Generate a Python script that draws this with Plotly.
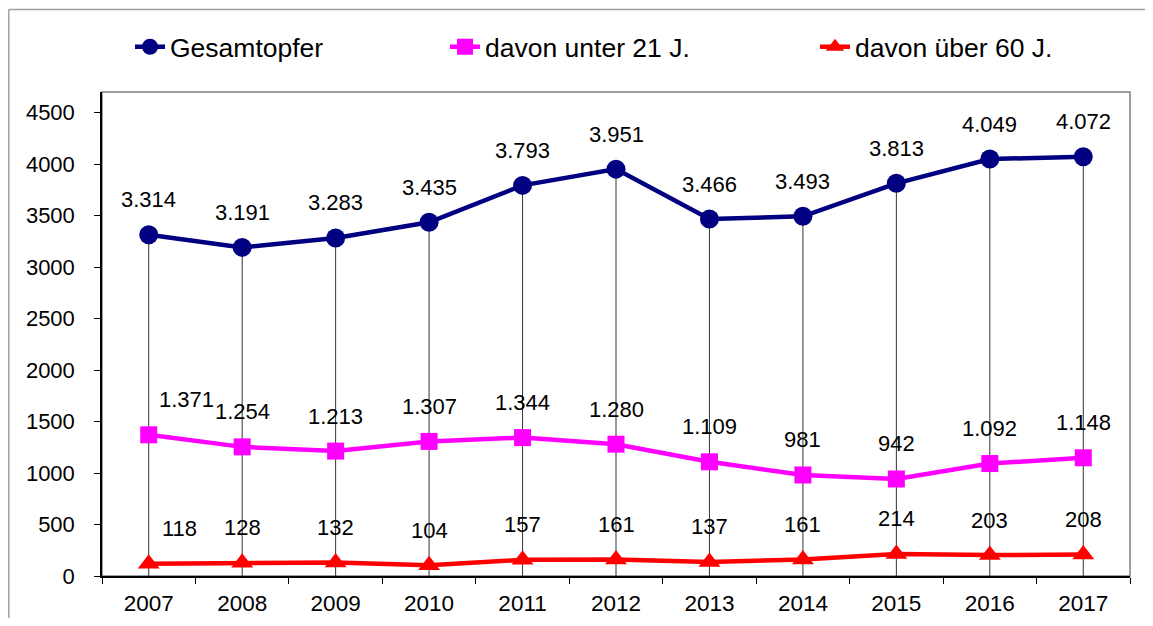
import plotly.graph_objects as go

years = ["2007", "2008", "2009", "2010", "2011", "2012", "2013", "2014", "2015", "2016", "2017"]
gesamt = [3314, 3191, 3283, 3435, 3793, 3951, 3466, 3493, 3813, 4049, 4072]
unter21 = [1371, 1254, 1213, 1307, 1344, 1280, 1109, 981, 942, 1092, 1148]
ueber60 = [118, 128, 132, 104, 157, 161, 137, 161, 214, 203, 208]
names = ["Gesamtopfer", "davon unter 21 J.", "davon über 60 J."]
colors = ["#000080", "#FF00FF", "#FF0000"]
symbols = ["circle", "square", "triangle-up"]
msizes = [19, 17, 19]

# label x-offsets (px) for a few labels, keyed by (series index, year index)
label_xshift = {(1, 0): 38, (2, 0): 31}

def fmt(v):
    return f"{v:,}".replace(",", ".")

fig = go.Figure()

# drop lines from the Gesamtopfer points to the axis
dx, dy = [], []
for yr, v in zip(years, gesamt):
    dx += [yr, yr, None]
    dy += [0, v, None]
fig.add_trace(go.Scatter(x=dx, y=dy, mode="lines", line=dict(color="#333333", width=1),
                         showlegend=False, hoverinfo="skip"))

series = [gesamt, unter21, ueber60]
legends = ["legend", "legend2", "legend3"]
for i, (vals, nm, col, sym, ms) in enumerate(zip(series, names, colors, symbols, msizes)):
    fig.add_trace(go.Scatter(x=years, y=vals, name=nm, mode="lines+markers",
                             line=dict(color=col, width=4.5),
                             marker=dict(symbol=sym, size=ms, color=col),
                             legend=legends[i]))
    for j, v in enumerate(vals):
        fig.add_annotation(x=j, y=v, xref="x", yref="y", text=fmt(v), showarrow=False,
                           yshift=35, xshift=label_xshift.get((i, j), 0),
                           font=dict(family="Liberation Sans, Arial", size=22, color="black"))

# page body has an 8px margin; figure is sized to fit inside the 1153x626 window
OFF = 8
W, H = 1153 - 2 * OFF, 626 - 2 * OFF
ml, mt = 102 - OFF, 92 - OFF
pw, ph = 1028, 484
mr, mb = W - ml - pw, H - mt - ph

def px2x(p):
    # page pixel -> paper x
    return (p - OFF - ml) / pw

def px2y(p):
    # page pixel -> paper y
    return (H - mb - (p - OFF)) / ph

leg_font = dict(family="Liberation Sans, Arial", size=26.5, color="black")
leg_common = dict(orientation="h", yanchor="middle", xanchor="left", font=leg_font,
                  bgcolor="rgba(0,0,0,0)", itemwidth=30)

# outer frame (top and left edges only visible in the window)
fig.add_shape(type="line", xref="paper", yref="paper",
              x0=px2x(8.8), x1=px2x(1153), y0=px2y(9.5), y1=px2y(9.5),
              line=dict(color="#A0A0A0", width=1.5), layer="below")
fig.add_shape(type="line", xref="paper", yref="paper",
              x0=px2x(8.8), x1=px2x(8.8), y0=px2y(9.5), y1=px2y(626),
              line=dict(color="#A0A0A0", width=1.5), layer="below")
# plot area frame (top/right gray)
fig.add_shape(type="rect", xref="paper", yref="paper", x0=0, x1=1, y0=0, y1=1,
              line=dict(color="#808080", width=1.5), layer="below")

fig.update_layout(
    width=W, height=H,
    margin=dict(l=ml, r=mr, t=mt, b=mb, autoexpand=False),
    paper_bgcolor="white", plot_bgcolor="white",
    font=dict(family="Liberation Sans, Arial", size=22, color="black"),
    legend=dict(x=px2x(130), y=px2y(47), **leg_common),
    legend2=dict(x=px2x(445), y=px2y(47), **leg_common),
    legend3=dict(x=px2x(815), y=px2y(47), **leg_common),
    xaxis=dict(type="category", range=[-0.5, 10.5], showgrid=False, showline=True,
               linecolor="black", linewidth=1.5, ticks="outside", tickson="boundaries",
               ticklen=6, tickcolor="black", tickfont=dict(size=22.5), zeroline=False,
               ticklabelstandoff=6, automargin=False),
    yaxis=dict(range=[0, 4700], tickvals=list(range(0, 5000, 500)), showgrid=False,
               showline=True, linecolor="black", linewidth=1.5, ticks="outside",
               ticklen=6, tickcolor="black", tickfont=dict(size=22), zeroline=False,
               ticklabelstandoff=15, automargin=False),
)

fig.write_html("out.html")
